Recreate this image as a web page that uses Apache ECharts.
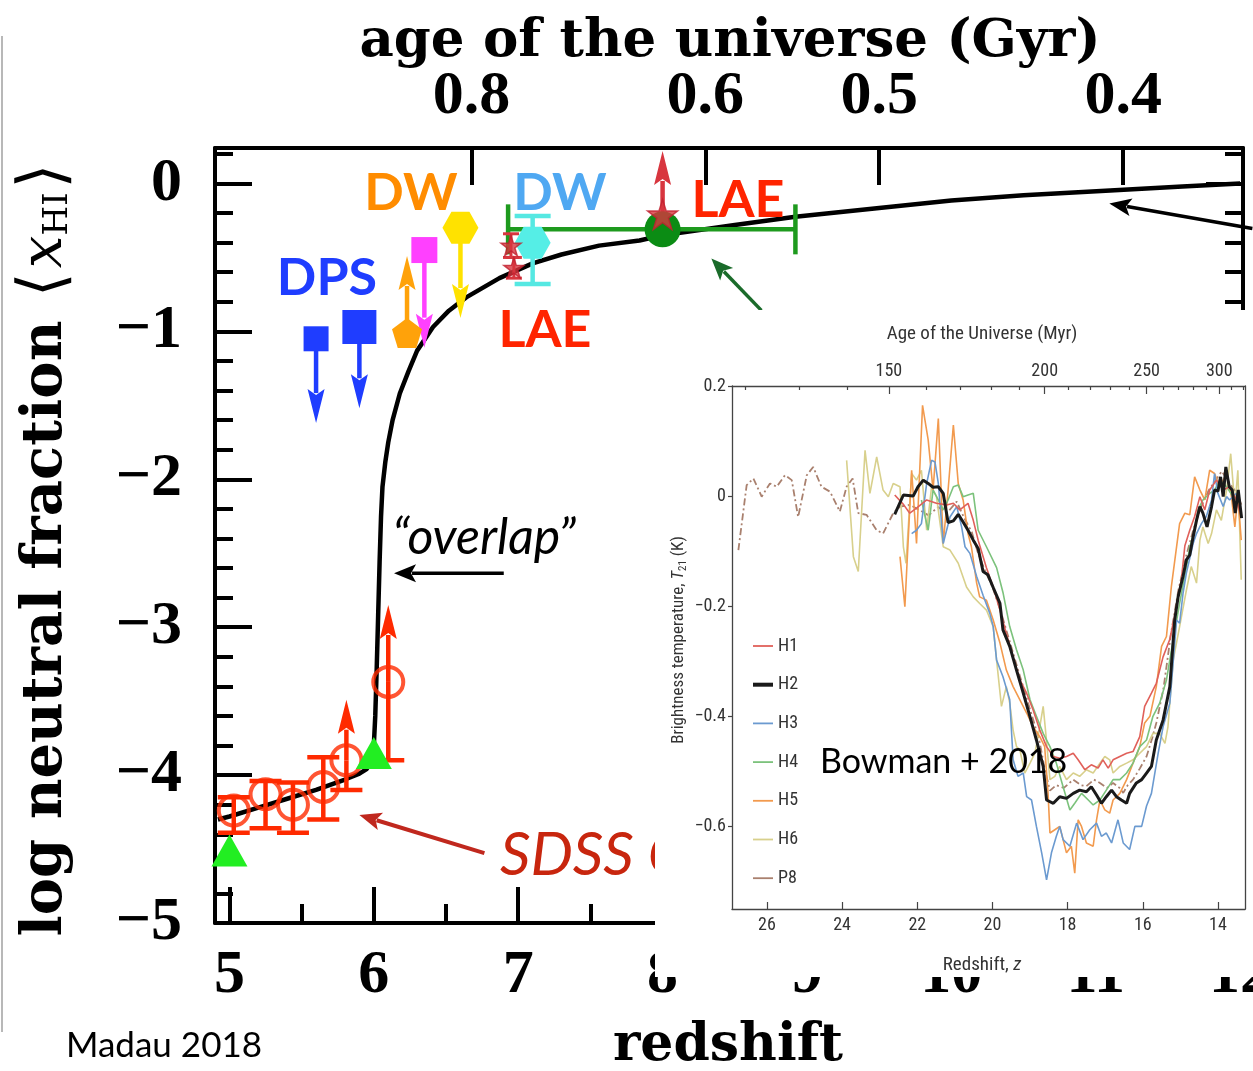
<!DOCTYPE html>
<html>
<head>
<meta charset="utf-8">
<title>Neutral fraction history and 21-cm absorption</title>
<script src="https://cdn.jsdelivr.net/npm/echarts/dist/echarts.min.js"></script>
<style>
  html, body { margin: 0; padding: 0; background: #fff; }
  #chart { width: 1253px; height: 1071px; }
</style>
</head>
<body>
<div id="chart"></div>
<script>
// ---------------- Main panel: log neutral fraction vs redshift ----------------
const modelZ    = [4.92, 5.0, 5.2, 5.4, 5.6, 5.8, 5.9, 5.95, 5.98, 6.0, 6.01, 6.02, 6.03, 6.04, 6.05, 6.06, 6.08, 6.10, 6.13, 6.18, 6.24, 6.30, 6.41, 6.52, 6.64, 6.87, 7.10, 7.30, 7.56, 7.84, 8.0, 8.5, 8.92, 9.5, 10.0, 10.5, 11.1, 11.6, 12.0];
const modelLogX = [-4.30, -4.28, -4.22, -4.16, -4.10, -4.03, -3.99, -3.96, -3.91, -3.80, -3.60, -3.28, -2.92, -2.56, -2.25, -2.05, -1.88, -1.75, -1.60, -1.42, -1.27, -1.13, -0.97, -0.86, -0.77, -0.64, -0.54, -0.48, -0.42, -0.385, -0.35, -0.28, -0.225, -0.165, -0.115, -0.08, -0.047, -0.02, 0.0];

// SDSS Gunn-Peterson points (open circles)
const sdssZ     = [5.03, 5.25, 5.44, 5.65, 5.81, 6.10];
const sdssLogX  = [-4.24, -4.13, -4.20, -4.08, -3.90, -3.37];
const sdssLow   = [-4.39, -4.36, -4.39, -4.30, -4.10, -3.90];
const sdssHigh  = [-4.15, -4.04, -4.05, -3.88, null, null];
const sdssLimit = [null, null, null, null, -3.49, -2.85];

// Green triangles
const triZ = [5.0, 6.0];
const triLogX = [-4.51, -3.85];

// Dark pixels (DPS): upper limits
const dpsZ = [5.60, 5.90];
const dpsLogX = [-1.05, -0.97];
const dpsLimit = [-1.62, -1.52];

// Damping wings (DW)
const dwOrangeZ = [6.23];  const dwOrangeLogX = [-1.01];  const dwOrangeLimit = [-0.49];
const dwMagentaZ = [6.35]; const dwMagentaLogX = [-0.45]; const dwMagentaLimit = [-1.11];
const dwYellowZ = [6.60];  const dwYellowLogX = [-0.30];  const dwYellowLimit = [-0.91];
const dwCyanZ = [7.10];    const dwCyanLogX = [-0.40];    const dwCyanLow = [-0.68]; const dwCyanHigh = [-0.22];

// Lyman-alpha emitters (LAE)
const laeZ = [6.95, 6.97, 8.0];
const laeLogX = [-0.42, -0.57, -0.21];
const laeLow = [-0.50, -0.64, null];
const laeHigh = [-0.34, -0.50, null];
const laeLimit = [null, null, 0.22];

// CMB point with redshift range
const cmbZ = [8.0];
const cmbLogX = [-0.31];
const cmbZLow = [6.93];
const cmbZHigh = [8.92];

// Axis ticks
const zMajor = [5, 6, 7, 8, 9, 10, 11, 12];
const zMinor = [5.5, 6.5, 7.5, 8.5, 9.5, 10.5, 11.5];
const yMajor = [0, -1, -2, -3, -4, -5];
const yMinor = [0.2, -0.2, -0.4, -0.6, -0.8, -1.2, -1.4, -1.6, -1.8, -2.2, -2.4, -2.6, -2.8, -3.2, -3.4, -3.6, -3.8, -4.2, -4.4, -4.6, -4.8];
const ageGyrLabels = ['0.8', '0.6', '0.5', '0.4'];
const ageGyrZ = [6.676, 8.296, 9.50, 11.19];

// ---------------- Inset: EDGES 21-cm brightness temperature ----------------
const insetZTicks = [26, 24, 22, 20, 18, 16, 14];
const insetTTicks = [0.2, 0, -0.2, -0.4, -0.6];
const ageMyrLabels = ['150', '200', '250', '300'];
const ageMyrZ = [22.756, 18.61, 15.899, 13.965];
const ageMyrMinorZ = [26.57, 25.13, 23.875, 21.756, 20.854, 20.037, 19.292, 17.983, 17.403, 16.865, 16.366, 15.463, 15.054, 14.670, 14.307, 13.642, 13.335];

const h1 = [[22.60,0.002],[22.37,-0.015],[22.20,-0.031],[22.02,-0.022],[21.75,-0.007],[21.49,-0.013],[21.22,-0.016],[21.04,-0.013],[20.87,-0.025],[20.65,-0.013],[20.51,-0.044],[20.38,-0.080],[20.16,-0.130],[19.98,-0.165],[19.80,-0.207],[19.63,-0.250],[19.45,-0.292],[19.27,-0.334],[19.09,-0.358],[18.92,-0.388],[18.74,-0.425],[18.56,-0.455],[18.38,-0.473],[18.21,-0.476],[18.03,-0.473],[17.85,-0.467],[17.72,-0.479],[17.54,-0.497],[17.37,-0.488],[17.19,-0.494],[17.06,-0.479],[16.92,-0.494],[16.79,-0.479],[16.61,-0.473],[16.43,-0.467],[16.26,-0.464],[16.08,-0.437],[15.95,-0.382],[15.77,-0.358],[15.64,-0.340],[15.46,-0.292],[15.28,-0.260],[15.10,-0.200],[14.97,-0.150],[14.88,-0.090],[14.75,-0.062],[14.62,-0.037],[14.48,-0.001],[14.35,-0.025],[14.22,0.011],[14.04,0.029],[13.86,0.011],[13.69,0.017],[13.51,-0.007],[13.38,-0.037]];
const h2 = [[22.60,-0.033],[22.37,0.002],[22.11,0.0],[21.98,0.017],[21.84,0.029],[21.71,0.023],[21.58,0.016],[21.44,0.017],[21.31,0.005],[21.18,-0.048],[21.04,-0.045],[20.91,-0.033],[20.78,-0.047],[20.65,-0.062],[20.51,-0.080],[20.38,-0.095],[20.25,-0.137],[20.12,-0.143],[19.98,-0.166],[19.80,-0.195],[19.72,-0.243],[19.54,-0.273],[19.36,-0.316],[19.18,-0.358],[19.00,-0.401],[18.83,-0.443],[18.65,-0.491],[18.56,-0.552],[18.38,-0.558],[18.21,-0.546],[18.03,-0.549],[17.85,-0.540],[17.68,-0.534],[17.50,-0.537],[17.37,-0.528],[17.23,-0.543],[17.10,-0.558],[16.97,-0.546],[16.83,-0.534],[16.70,-0.546],[16.57,-0.552],[16.43,-0.558],[16.35,-0.540],[16.17,-0.521],[16.03,-0.515],[15.90,-0.503],[15.77,-0.491],[15.64,-0.443],[15.46,-0.407],[15.28,-0.346],[15.15,-0.225],[15.06,-0.183],[14.93,-0.146],[14.84,-0.116],[14.75,-0.107],[14.66,-0.074],[14.57,-0.044],[14.48,-0.019],[14.40,-0.031],[14.29,-0.056],[14.17,-0.019],[14.09,0.011],[14.00,0.009],[13.93,0.035],[13.86,-0.001],[13.79,0.053],[13.70,0.017],[13.62,0.011],[13.54,-0.031],[13.46,0.011],[13.37,-0.040]];
const h3 = [[22.15,-0.068],[22.02,-0.062],[21.89,-0.050],[21.75,0.023],[21.62,0.065],[21.53,0.062],[21.44,0.023],[21.31,-0.086],[21.13,-0.038],[20.95,-0.019],[20.82,-0.056],[20.73,-0.092],[20.60,-0.104],[20.42,-0.146],[20.25,-0.180],[20.07,-0.213],[19.98,-0.237],[19.89,-0.298],[19.72,-0.328],[19.54,-0.370],[19.45,-0.479],[19.32,-0.509],[19.18,-0.503],[19.09,-0.546],[18.96,-0.552],[18.83,-0.600],[18.69,-0.648],[18.56,-0.697],[18.43,-0.648],[18.30,-0.618],[18.21,-0.600],[18.12,-0.624],[17.94,-0.636],[17.76,-0.594],[17.59,-0.624],[17.41,-0.606],[17.23,-0.594],[17.10,-0.618],[16.97,-0.612],[16.83,-0.630],[16.66,-0.588],[16.52,-0.630],[16.35,-0.642],[16.21,-0.600],[16.03,-0.600],[15.90,-0.563],[15.77,-0.540],[15.59,-0.467],[15.46,-0.419],[15.28,-0.376],[15.15,-0.267],[15.10,-0.225],[15.02,-0.231],[14.93,-0.177],[14.84,-0.140],[14.66,-0.086],[14.57,-0.068],[14.44,-0.050],[14.31,-0.037],[14.17,-0.007],[14.09,0.041],[14.00,0.005],[13.86,-0.019],[13.77,-0.001],[13.69,-0.007],[13.51,0.005]];
const h4 = [[21.89,-0.007],[21.71,-0.062],[21.58,0.011],[21.44,-0.007],[21.31,-0.025],[21.18,-0.007],[21.04,0.017],[20.91,0.020],[20.78,-0.001],[20.65,0.002],[20.51,0.005],[20.38,-0.062],[20.16,-0.092],[19.89,-0.130],[19.72,-0.175],[19.54,-0.237],[19.36,-0.279],[19.18,-0.316],[19.00,-0.370],[18.83,-0.400],[18.65,-0.431],[18.47,-0.455],[18.30,-0.485],[18.12,-0.528],[17.94,-0.570],[17.81,-0.558],[17.63,-0.540],[17.45,-0.552],[17.32,-0.561],[17.14,-0.552],[16.97,-0.534],[16.79,-0.515],[16.61,-0.515],[16.43,-0.503],[16.26,-0.485],[16.08,-0.455],[15.90,-0.443],[15.73,-0.400],[15.55,-0.376],[15.37,-0.334],[15.19,-0.261],[15.02,-0.195],[14.84,-0.130],[14.75,-0.092],[14.62,-0.062],[14.53,-0.025],[14.40,-0.007],[14.22,0.005],[14.09,0.011],[13.95,0.029],[13.77,0.017],[13.60,-0.001]];
const h5 = [[22.46,-0.110],[22.33,-0.201],[22.15,0.047],[22.02,-0.086],[21.86,0.165],[21.71,0.102],[21.58,0.011],[21.44,0.141],[21.31,-0.086],[21.18,0.011],[21.04,0.129],[20.91,0.023],[20.78,-0.007],[20.65,-0.068],[20.56,-0.092],[20.42,-0.158],[20.34,-0.183],[20.16,-0.189],[19.98,-0.225],[19.80,-0.267],[19.63,-0.316],[19.45,-0.346],[19.27,-0.370],[19.09,-0.394],[18.92,-0.419],[18.74,-0.437],[18.61,-0.455],[18.52,-0.540],[18.47,-0.612],[18.34,-0.606],[18.21,-0.600],[18.03,-0.648],[17.90,-0.636],[17.81,-0.685],[17.72,-0.588],[17.63,-0.600],[17.50,-0.630],[17.32,-0.636],[17.23,-0.588],[17.14,-0.552],[17.01,-0.570],[16.88,-0.576],[16.79,-0.552],[16.61,-0.540],[16.43,-0.515],[16.26,-0.485],[16.08,-0.455],[15.95,-0.412],[15.81,-0.400],[15.64,-0.346],[15.50,-0.273],[15.37,-0.255],[15.24,-0.165],[15.02,-0.050],[14.88,-0.031],[14.75,-0.034],[14.62,0.035],[14.48,0.011],[14.35,-0.007],[14.22,0.047],[14.09,0.041],[13.95,0.017],[13.77,0.041],[13.64,-0.001],[13.55,-0.056],[13.47,-0.001],[13.38,-0.080]];
const h6 = [[23.88,0.065],[23.70,-0.110],[23.57,-0.137],[23.39,0.083],[23.26,0.005],[23.08,0.071],[22.91,0.011],[22.77,-0.001],[22.64,0.023],[22.46,0.017],[22.37,-0.092],[22.30,-0.122],[22.15,0.041],[22.02,0.029],[21.89,0.047],[21.75,-0.062],[21.62,0.017],[21.49,-0.001],[21.31,-0.092],[21.13,-0.098],[20.91,-0.122],[20.69,-0.165],[20.51,-0.183],[20.34,-0.195],[20.16,-0.207],[19.98,-0.237],[19.89,-0.298],[19.76,-0.382],[19.63,-0.346],[19.54,-0.376],[19.45,-0.425],[19.36,-0.455],[19.27,-0.461],[19.14,-0.503],[19.00,-0.485],[18.87,-0.467],[18.74,-0.419],[18.65,-0.382],[18.58,-0.431],[18.47,-0.515],[18.34,-0.509],[18.21,-0.491],[18.03,-0.515],[17.85,-0.503],[17.68,-0.509],[17.50,-0.497],[17.32,-0.503],[17.14,-0.485],[17.01,-0.473],[16.88,-0.479],[16.79,-0.503],[16.61,-0.491],[16.43,-0.485],[16.26,-0.479],[16.08,-0.467],[15.90,-0.455],[15.73,-0.431],[15.55,-0.431],[15.41,-0.449],[15.33,-0.419],[15.19,-0.298],[15.02,-0.237],[14.84,-0.171],[14.71,-0.128],[14.57,-0.158],[14.48,-0.080],[14.40,-0.056],[14.26,-0.086],[14.17,-0.068],[14.04,-0.025],[13.91,-0.044],[13.77,0.011],[13.66,0.077],[13.55,-0.019],[13.47,0.047],[13.38,-0.152]];
const p8 = [[26.76,-0.098],[26.54,0.020],[26.36,0.032],[26.14,-0.001],[25.92,0.023],[25.74,0.017],[25.52,0.038],[25.34,0.029],[25.17,-0.038],[24.94,0.038],[24.77,0.053],[24.55,0.017],[24.32,0.008],[24.06,-0.028],[23.88,0.017],[23.72,0.032],[23.57,-0.031],[23.35,-0.034],[23.08,-0.062],[22.91,-0.068],[22.64,-0.031],[22.46,-0.019],[22.20,-0.016],[21.95,-0.025],[21.70,-0.035],[21.45,-0.020],[21.20,-0.030],[20.95,-0.010],[20.75,-0.040],[20.55,-0.065],[20.40,-0.100],[20.20,-0.135],[20.00,-0.165],[19.80,-0.205],[19.55,-0.262],[19.30,-0.320],[19.10,-0.365],[18.90,-0.410],[18.75,-0.445],[18.61,-0.495],[18.47,-0.535],[18.30,-0.525],[18.10,-0.530],[17.85,-0.515],[17.65,-0.525],[17.50,-0.527],[17.30,-0.515],[17.14,-0.521],[16.95,-0.530],[16.79,-0.521],[16.62,-0.530],[16.52,-0.539],[16.40,-0.525],[16.26,-0.515],[16.08,-0.495],[15.90,-0.473],[15.75,-0.440],[15.64,-0.412],[15.45,-0.350],[15.25,-0.250],[15.05,-0.170],[14.85,-0.110],[14.65,-0.060],[14.45,-0.020],[14.25,0.010],[14.05,0.030],[13.90,0.045],[13.70,0.025],[13.50,0.005],[13.35,-0.020]];

// ---------------- Styling ----------------
const SERIF_WIDE = '"DejaVu Serif", serif';
const SERIF = '"Liberation Serif", serif';
const SANS = 'Lato, "Open Sans", sans-serif';
const NARROW = '"Liberation Sans Narrow", "Roboto Condensed", "Liberation Sans", sans-serif';

const zip = (xs, ys) => xs.map((x, i) => [x, ys[i]]);
const pick = (vals, labels) => v => {
  let best = 0;
  vals.forEach((t, i) => { if (Math.abs(t - v) < Math.abs(vals[best] - v)) best = i; });
  return labels[best];
};

const PENTAGON = 'path://M50,0 L97.6,34.5 L79.4,90.5 L20.6,90.5 L2.4,34.5 Z';
const HEXAGON = 'path://M25,0 L75,0 L100,43.3 L75,86.6 L25,86.6 L0,43.3 Z';
const STAR = 'path://M50,0 L61.8,35.3 L98.9,35.5 L69.1,57.7 L80.3,93.2 L50,71.5 L19.7,93.2 L30.9,57.7 L1.1,35.5 L38.2,35.3 Z';

// vertical limit arrow: [x, from, to]
function limitArrows(data, color, z) {
  return {
    type: 'custom', xAxisIndex: 0, yAxisIndex: 0, z: z, clip: false, data: data,
    renderItem: (params, api) => {
      const p0 = api.coord([api.value(0), api.value(1)]);
      const p1 = api.coord([api.value(0), api.value(2)]);
      const dir = p1[1] > p0[1] ? 1 : -1;
      const headL = 34, headW = 17;
      const base = p1[1] - dir * headL;
      return { type: 'group', children: [
        { type: 'line', shape: { x1: p0[0], y1: p0[1], x2: p1[0], y2: base + dir * 4 }, style: { stroke: color, lineWidth: 4.5 } },
        { type: 'polygon', shape: { points: [[p1[0], p1[1]], [p1[0] - headW / 2, base], [p1[0], base + dir * 6], [p1[0] + headW / 2, base]] }, style: { fill: color } }
      ] };
    }
  };
}

// vertical error bar: [x, y, low, high]; missing high -> bar stops at the point
function verticalErrors(data, color, capHalf, width, z) {
  return {
    type: 'custom', xAxisIndex: 0, yAxisIndex: 0, z: z, clip: false, data: data,
    renderItem: (params, api) => {
      const x = api.value(0);
      const hiV = api.value(3);
      const hasHi = !isNaN(hiV);
      const lo = api.coord([x, api.value(2)]);
      const hi = api.coord([x, hasHi ? hiV : api.value(1)]);
      const st = { stroke: color, lineWidth: width };
      const kids = [
        { type: 'line', shape: { x1: lo[0], y1: lo[1], x2: hi[0], y2: hi[1] }, style: st },
        { type: 'line', shape: { x1: lo[0] - capHalf, y1: lo[1], x2: lo[0] + capHalf, y2: lo[1] }, style: st }
      ];
      if (hasHi) kids.push({ type: 'line', shape: { x1: hi[0] - capHalf, y1: hi[1], x2: hi[0] + capHalf, y2: hi[1] }, style: st });
      return { type: 'group', children: kids };
    }
  };
}

// horizontal error bar: [y, xlow, xhigh]
function horizontalErrors(data, color, capHalf, width, z) {
  return {
    type: 'custom', xAxisIndex: 0, yAxisIndex: 0, z: z, clip: false, data: data,
    renderItem: (params, api) => {
      const a = api.coord([api.value(1), api.value(0)]);
      const b = api.coord([api.value(2), api.value(0)]);
      const st = { stroke: color, lineWidth: width };
      return { type: 'group', children: [
        { type: 'line', shape: { x1: a[0], y1: a[1], x2: b[0], y2: b[1] }, style: st },
        { type: 'line', shape: { x1: a[0], y1: a[1] - capHalf, x2: a[0], y2: a[1] + capHalf }, style: st },
        { type: 'line', shape: { x1: b[0], y1: b[1] - capHalf, x2: b[0], y2: b[1] + capHalf }, style: st }
      ] };
    }
  };
}

// annotation pointer: [x0, y0, x1, y1], head at (x1, y1)
function pointer(from, to, color, width, z) {
  return {
    type: 'custom', xAxisIndex: 0, yAxisIndex: 0, z: z, clip: false,
    data: [[from[0], from[1], to[0], to[1]]],
    renderItem: (params, api) => {
      const a = api.coord([api.value(0), api.value(1)]);
      const b = api.coord([api.value(2), api.value(3)]);
      const dx = b[0] - a[0], dy = b[1] - a[1], L = Math.hypot(dx, dy);
      const ux = dx / L, uy = dy / L, hl = 22, hw = 9;
      const bx = b[0] - ux * hl, by = b[1] - uy * hl;
      return { type: 'group', children: [
        { type: 'line', shape: { x1: a[0], y1: a[1], x2: bx + ux * 4, y2: by + uy * 4 }, style: { stroke: color, lineWidth: width } },
        { type: 'polygon', shape: { points: [[b[0], b[1]], [bx - uy * hw, by + ux * hw], [bx + ux * 5, by + uy * 5], [bx + uy * hw, by - ux * hw]] }, style: { fill: color } }
      ] };
    }
  };
}

const scatter = (data, symbol, size, color, z, extra) => Object.assign({
  type: 'scatter', xAxisIndex: 0, yAxisIndex: 0, data: data, symbol: symbol, symbolSize: size, z: z,
  itemStyle: { color: color, opacity: 1 }, emphasis: { disabled: true }
}, extra || {});

// ---------------- Build series ----------------
const series = [];

series.push({
  type: 'line', xAxisIndex: 0, yAxisIndex: 0, data: zip(modelZ, modelLogX), showSymbol: false, z: 3,
  lineStyle: { color: '#000', width: 4.5 }, emphasis: { disabled: true }
});

// DPS
series.push(limitArrows(dpsZ.map((z, i) => [z, dpsLogX[i], dpsLimit[i]]), '#1f3dff', 4));
const dpsMarkerSize = [25, 34];
series.push(scatter(zip(dpsZ, dpsLogX), 'rect', (v, p) => dpsMarkerSize[p.dataIndex], '#1f3dff', 6));

// DW
series.push(limitArrows(dwOrangeZ.map((z, i) => [z, dwOrangeLogX[i], dwOrangeLimit[i]]), '#ffa20a', 4));
series.push(limitArrows(dwMagentaZ.map((z, i) => [z, dwMagentaLogX[i], dwMagentaLimit[i]]), '#ff40ff', 4));
series.push(limitArrows(dwYellowZ.map((z, i) => [z, dwYellowLogX[i], dwYellowLimit[i]]), '#ffe200', 4));
series.push(scatter(zip(dwOrangeZ, dwOrangeLogX), PENTAGON, 30, '#ffa20a', 7));
series.push(scatter(zip(dwMagentaZ, dwMagentaLogX), 'rect', 26, '#ff40ff', 7));
series.push(scatter(zip(dwYellowZ, dwYellowLogX), HEXAGON, [36, 32], '#ffe200', 7));
series.push(verticalErrors(dwCyanZ.map((z, i) => [z, dwCyanLogX[i], dwCyanLow[i], dwCyanHigh[i]]), '#55e8e2', 18, 4.5, 5));
series.push(scatter(zip(dwCyanZ, dwCyanLogX), HEXAGON, [36, 32], '#55eee6', 7));

// CMB (with redshift range)
series.push(horizontalErrors(cmbZ.map((z, i) => [cmbLogX[i], cmbZLow[i], cmbZHigh[i]]), '#1e9a1e', 25, 4.5, 5));
series.push(scatter(zip(cmbZ, cmbLogX), 'circle', 36, '#0b8c14', 7));

// LAE
series.push(verticalErrors(laeZ.map((z, i) => [z, laeLogX[i], laeLow[i], laeHigh[i]]).filter(d => d[2] !== null), '#d8363f', 8, 3, 6));
series.push(limitArrows(laeZ.map((z, i) => [z, laeLogX[i], laeLimit[i]]).filter(d => d[2] !== null), '#d8363f', 6));
const laeMarkerSize = [20, 20, 30];
series.push(scatter(zip(laeZ, laeLogX), STAR, (v, p) => laeMarkerSize[p.dataIndex], '#d8363f', 8,
  { itemStyle: { color: '#d8363f', borderColor: '#c02030', borderWidth: 1.5 } }));

// SDSS Gunn-Peterson
series.push(verticalErrors(sdssZ.map((z, i) => [z, sdssLogX[i], sdssLow[i], sdssHigh[i] === null ? NaN : sdssHigh[i]]), '#ff2a00', 16, 4.5, 4));
series.push(limitArrows(sdssZ.map((z, i) => [z, sdssLogX[i], sdssLimit[i]]).filter(d => d[2] !== null), '#ff2a00', 4));
series.push(scatter(zip(sdssZ, sdssLogX), 'circle', 30, 'rgba(0,0,0,0)', 5,
  { itemStyle: { color: 'rgba(0,0,0,0)', borderColor: '#ff2a00', borderWidth: 4 } }));

// Triangles
series.push(scatter(zip(triZ, triLogX), 'triangle', [36, 32], '#22ee22', 6));

// Annotation pointers
series.push(pointer([6.90, -2.635], [6.14, -2.635], '#000', 3.5, 5));
series.push(pointer([6.766, -4.527], [5.90, -4.27], '#c0281e', 4, 5));
series.push(pointer([12.085, -0.304], [11.094, -0.135], '#000', 3.5, 5));
series.push(pointer([8.684, -0.858], [8.338, -0.507], '#1a6b2a', 3.5, 5));

// Inset lines (drawn back to front)
const insetLine = (name, data, color, width, extra) => Object.assign({
  name: name, type: 'line', xAxisIndex: 3, yAxisIndex: 4, data: data, showSymbol: false, z: 12,
  lineStyle: { color: color, width: width }, itemStyle: { color: color }, emphasis: { disabled: true }
}, extra || {});
const C = { H1: '#e0605a', H2: '#1a1a1a', H3: '#6b9ad0', H4: '#7cc27c', H5: '#f29a4e', H6: '#d8d08c', P8: '#a9806e' };
series.push(insetLine('P8', p8, C.P8, 1.8, { lineStyle: { color: C.P8, width: 1.8, type: [7, 3, 2, 3] } }));
series.push(insetLine('H6', h6, C.H6, 1.6));
series.push(insetLine('H5', h5, C.H5, 1.6));
series.push(insetLine('H4', h4, C.H4, 1.6));
series.push(insetLine('H3', h3, C.H3, 1.6));
series.push(insetLine('H1', h1, C.H1, 1.6));
series.push(insetLine('H2', h2, C.H2, 3));

// ---------------- Axes ----------------
const blackLine = { show: true, onZero: false, lineStyle: { color: '#000', width: 4 } };
const noLine = { show: false, onZero: false };
const mainLabel = { fontFamily: SERIF, fontWeight: 'bold', fontSize: 62, color: '#000' };

const xAxes = [
  { gridIndex: 0, type: 'value', min: 4.9, max: 12.02, position: 'bottom', axisLine: blackLine,
    axisTick: { inside: true, length: 36, lineStyle: { color: '#000', width: 4 }, customValues: zMajor },
    axisLabel: Object.assign({ customValues: zMajor, margin: 22, formatter: v => String(Math.round(v)) }, mainLabel),
    splitLine: { show: false } },
  { gridIndex: 0, type: 'value', min: 4.9, max: 12.02, position: 'bottom', axisLine: noLine,
    axisTick: { inside: true, length: 19, lineStyle: { color: '#000', width: 4 }, customValues: zMinor },
    axisLabel: { show: false }, splitLine: { show: false } },
  { gridIndex: 0, type: 'value', min: 4.9, max: 12.02, position: 'top', axisLine: blackLine,
    axisTick: { inside: true, length: 37, lineStyle: { color: '#000', width: 4 }, customValues: ageGyrZ },
    axisLabel: Object.assign({ customValues: ageGyrZ, margin: 20, formatter: pick(ageGyrZ, ageGyrLabels) }, mainLabel),
    splitLine: { show: false } },
  // inset
  { gridIndex: 1, type: 'value', min: 13.28, max: 26.93, inverse: true, position: 'bottom', z: 11,
    axisLine: { show: true, onZero: false, lineStyle: { color: '#444', width: 1.3 } },
    axisTick: { inside: true, length: 7, lineStyle: { color: '#444', width: 1.2 }, customValues: insetZTicks },
    axisLabel: { customValues: insetZTicks, margin: 7, fontFamily: NARROW, fontSize: 18, color: '#333', formatter: v => String(Math.round(v)) },
    splitLine: { show: false } },
  { gridIndex: 1, type: 'value', min: 13.28, max: 26.93, inverse: true, position: 'top', z: 11,
    axisLine: { show: true, onZero: false, lineStyle: { color: '#444', width: 1.3 } },
    axisTick: { inside: true, length: 4, lineStyle: { color: '#444', width: 1.2 }, customValues: ageMyrMinorZ },
    axisLabel: { show: false }, splitLine: { show: false } },
  { gridIndex: 1, type: 'value', min: 13.28, max: 26.93, inverse: true, position: 'top', z: 11,
    axisLine: noLine,
    axisTick: { inside: true, length: 8, lineStyle: { color: '#444', width: 1.2 }, customValues: ageMyrZ },
    axisLabel: { customValues: ageMyrZ, margin: 6, fontFamily: NARROW, fontSize: 18, color: '#333', formatter: pick(ageMyrZ, ageMyrLabels) },
    splitLine: { show: false } }
];

const yAxes = [
  { gridIndex: 0, type: 'value', min: -5, max: 0.24, position: 'left', axisLine: blackLine,
    axisTick: { inside: true, length: 37, lineStyle: { color: '#000', width: 4 }, customValues: yMajor },
    axisLabel: Object.assign({ customValues: yMajor, margin: 33, formatter: v => v === 0 ? '0' : '\u2212' + Math.abs(Math.round(v)) }, mainLabel),
    splitLine: { show: false } },
  { gridIndex: 0, type: 'value', min: -5, max: 0.24, position: 'left', axisLine: noLine,
    axisTick: { inside: true, length: 18, lineStyle: { color: '#000', width: 4 }, customValues: yMinor },
    axisLabel: { show: false }, splitLine: { show: false } },
  { gridIndex: 0, type: 'value', min: -5, max: 0.24, position: 'right', axisLine: blackLine,
    axisTick: { inside: true, length: 37, lineStyle: { color: '#000', width: 4 }, customValues: yMajor },
    axisLabel: { show: false }, splitLine: { show: false } },
  { gridIndex: 0, type: 'value', min: -5, max: 0.24, position: 'right', axisLine: noLine,
    axisTick: { inside: true, length: 18, lineStyle: { color: '#000', width: 4 }, customValues: yMinor },
    axisLabel: { show: false }, splitLine: { show: false } },
  // inset
  { gridIndex: 1, type: 'value', min: -0.75, max: 0.2, position: 'left', z: 11,
    axisLine: { show: true, onZero: false, lineStyle: { color: '#444', width: 1.3 } },
    axisTick: { inside: false, length: 4, lineStyle: { color: '#444', width: 1.2 }, customValues: insetTTicks },
    axisLabel: { customValues: insetTTicks, margin: 6, fontFamily: NARROW, fontSize: 18, color: '#333',
      formatter: v => Math.abs(v) < 1e-9 ? '0' : (v < 0 ? '\u2212' : '') + Math.abs(v).toFixed(1) },
    splitLine: { show: false } },
  { gridIndex: 1, type: 'value', min: -0.75, max: 0.2, position: 'right', z: 11,
    axisLine: { show: true, onZero: false, lineStyle: { color: '#444', width: 1.3 } },
    axisTick: { show: false }, axisLabel: { show: false }, splitLine: { show: false } }
];

// ---------------- Texts and panels ----------------
const txt = (x, y, text, style, z, extra) => Object.assign({
  type: 'text', x: x, y: y, z: z, silent: true,
  style: Object.assign({ text: text, fill: '#000', align: 'center', verticalAlign: 'middle', textAlign: 'center', textVerticalAlign: 'middle' }, style)
}, extra || {});

const graphics = [
  { type: 'line', z: 1, silent: true, shape: { x1: 2, y1: 36, x2: 2, y2: 1032 }, style: { stroke: '#a0a0a0', lineWidth: 1.5 } },
  txt(730, 42, 'age of the universe (Gyr)', { fontFamily: SERIF_WIDE, fontWeight: 'bold', fontSize: 53 }, 4),
  txt(728, 1046, 'redshift', { fontFamily: SERIF_WIDE, fontWeight: 'bold', fontSize: 52 }, 4),
  txt(46, 548, 'log neutral fraction {g|\u27E8}{x|x}{s|HI}{g|\u27E9}', {
    fontFamily: SERIF_WIDE, fontWeight: 'bold', fontSize: 56,
    rich: {
      g: { fontFamily: '"DejaVu Sans", sans-serif', fontWeight: 'normal', fontSize: 64, padding: [0, 4, 0, 4] },
      x: { fontFamily: SERIF_WIDE, fontStyle: 'italic', fontWeight: 'normal', fontSize: 58 },
      s: { fontFamily: SERIF_WIDE, fontWeight: 'normal', fontSize: 34, padding: [24, 0, 0, 0] }
    }
  }, 4, { rotation: Math.PI / 2 }),
  txt(327, 278, 'DPS', { fontFamily: SANS, fontWeight: 'bold', fontSize: 52, fill: '#1f3dff' }, 4),
  txt(411, 193, 'DW', { fontFamily: SANS, fontWeight: 'bold', fontSize: 52, fill: '#ff8c00' }, 4),
  txt(560, 193, 'DW', { fontFamily: SANS, fontWeight: 'bold', fontSize: 52, fill: '#4fa8f2' }, 4),
  txt(738, 200, 'LAE', { fontFamily: SANS, fontWeight: 'bold', fontSize: 52, fill: '#ff2400' }, 4),
  txt(545, 330, 'LAE', { fontFamily: SANS, fontWeight: 'bold', fontSize: 52, fill: '#ff2400' }, 4),
  txt(484, 538, '\u201Coverlap\u201D', { fontFamily: SANS, fontStyle: 'italic', fontSize: 50 }, 4),
  txt(500, 856, 'SDSS GP', { fontFamily: SANS, fontStyle: 'italic', fontSize: 60, fill: '#c8260e', align: 'left', textAlign: 'left' }, 4),
  txt(66, 1046, 'Madau 2018', { fontFamily: SANS, fontSize: 35, align: 'left', textAlign: 'left' }, 4),
  // inset panel
  { type: 'rect', z: 10, silent: true, shape: { x: 655, y: 310, width: 598, height: 667 }, style: { fill: '#fff' } },
  txt(982, 334, 'Age of the Universe (Myr)', { fontFamily: NARROW, fontSize: 19, fill: '#333' }, 13),
  txt(982, 965, 'Redshift, {i|z}', { fontFamily: NARROW, fontSize: 19, fill: '#333',
    rich: { i: { fontFamily: NARROW, fontStyle: 'italic', fontSize: 19, fill: '#333' } } }, 13),
  txt(679, 640, 'Brightness temperature, {i|T}{s|21} (K)', { fontFamily: NARROW, fontSize: 17, fill: '#333',
    rich: { i: { fontFamily: NARROW, fontStyle: 'italic', fontSize: 17, fill: '#333' },
            s: { fontFamily: NARROW, fontSize: 11, fill: '#333', padding: [8, 0, 0, 0] } } }, 13, { rotation: Math.PI / 2 }),
  txt(820, 762, 'Bowman + 2018', { fontFamily: SANS, fontSize: 34, align: 'left', textAlign: 'left' }, 14)
];

const thinIcon = 'path://M0,0M0,7.6L20,7.6L20,9.4L0,9.4ZM20,17';
const thickIcon = 'path://M0,0M0,6.5L20,6.5L20,10.5L0,10.5ZM20,17';

const option = {
  animation: false,
  backgroundColor: '#fff',
  grid: [
    { left: 215, top: 148, width: 1028, height: 775, containLabel: false, outerBoundsMode: 'none' },
    { left: 732, top: 386, width: 513, height: 523, containLabel: false, outerBoundsMode: 'none', z: 11 }
  ],
  xAxis: xAxes,
  yAxis: yAxes,
  legend: {
    z: 13, orient: 'vertical', left: 748, top: 632, itemWidth: 20, itemHeight: 17, itemGap: 20.7,
    selectedMode: false, itemStyle: { borderWidth: 0 },
    textStyle: { fontFamily: NARROW, fontSize: 18, color: '#333', lineHeight: 17 },
    data: [
      { name: 'H1', icon: thinIcon }, { name: 'H2', icon: thickIcon }, { name: 'H3', icon: thinIcon },
      { name: 'H4', icon: thinIcon }, { name: 'H5', icon: thinIcon }, { name: 'H6', icon: thinIcon },
      { name: 'P8', icon: thinIcon }
    ]
  },
  graphic: { elements: graphics },
  series: series
};

const chart = echarts.init(document.getElementById('chart'), null, { renderer: 'canvas' });
chart.setOption(option);
</script>
</body>
</html>
